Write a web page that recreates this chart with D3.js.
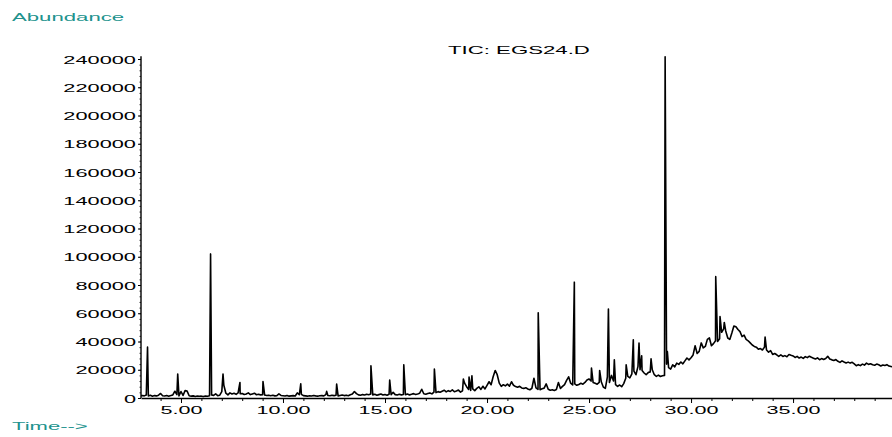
<!DOCTYPE html>
<html>
<head>
<meta charset="utf-8">
<script src="https://cdn.jsdelivr.net/npm/d3@7"></script>
<style>
  body { margin: 0; background: #fff; }
  svg { display: block; font-family: 'Liberation Sans', Arial, Helvetica, sans-serif; }
</style>
</head>
<body>
<div id="chart-container"></div>
<script>
// TIC trace, sampled every 0.1 min from 3.0 min (one row per minute)
const traceStart = 3.0;
const traceStep = 0.1;
const traceValues = [
  1600, 1800, 1500, 2100, 1400, 1900, 1300, 1700, 1500, 2000, // 3
  3200, 1600, 1400, 1800, 1300, 1700, 2200, 4800, 2400, 1500, // 4
  4600, 1800, 5200, 4900, 1600, 1300, 1500, 1100, 1400, 1200, // 5
  1300, 1000, 1400, 1200, 1600, 2200, 1800, 2900, 1700, 2000, // 6
  4500, 9000, 3400, 2200, 3600, 2800, 3300, 2600, 3700, 3000, // 7
  3200, 2500, 2800, 3600, 2400, 2900, 3400, 2300, 2600, 2200, // 8
  2400, 2100, 1800, 2000, 1600, 1900, 1500, 1700, 2900, 1800, // 9
  1600, 1400, 1800, 1300, 1500, 1700, 1400, 3600, 2300, 2600, // 10
  1700, 1500, 1300, 1600, 1400, 1800, 1500, 1300, 1600, 1700, // 11
  1500, 2400, 1800, 1600, 1900, 1700, 2000, 1500, 1800, 2100, // 12
  1700, 2000, 1600, 2300, 2800, 4600, 3100, 2200, 1900, 2400, // 13
  2100, 2600, 2300, 2900, 2200, 2600, 2000, 2400, 2800, 2100, // 14
  2500, 2000, 2700, 2300, 4000, 2400, 2100, 2600, 2200, 2500, // 15
  2300, 2800, 2200, 2600, 3100, 2500, 2900, 3400, 6200, 3000, // 16
  2700, 3200, 3600, 2900, 4200, 3800, 4500, 4100, 4800, 5500, // 17
  4300, 5200, 4600, 5800, 4400, 4900, 5600, 4200, 5100, 10500, // 18
  8000, 6000, 5400, 6500, 5200, 6800, 7900, 6100, 8300, 6400, // 19
  9000, 11500, 9400, 15000, 19500, 16500, 10500, 8200, 9400, 8600, // 20
  9800, 8400, 11500, 9000, 8100, 7600, 8300, 7100, 6800, 7300, // 21
  6400, 5800, 6900, 14000, 7200, 6100, 5900, 6600, 7000, 10000, // 22
  6200, 5500, 5800, 5300, 6000, 11000, 6800, 8200, 9500, 12500, // 23
  15000, 10500, 9200, 10000, 9000, 9600, 10400, 9800, 11000, 12800, // 24
  13500, 12000, 11000, 10400, 9800, 11000, 11500, 7800, 6800, 15000, // 25
  11000, 16000, 12000, 9400, 8200, 9200, 8000, 10200, 14000, 15300, // 26
  14300, 17000, 19000, 16500, 22400, 20000, 19500, 17700, 16500, 18000, // 27
  18500, 20000, 16500, 15300, 16200, 15200, 15800, 16000, 24000, 21500, // 28
  20500, 23500, 22000, 24700, 23800, 25500, 24200, 26300, 28300, 27000, // 29
  28500, 30500, 37000, 31500, 33000, 39000, 35500, 36500, 41500, 42500, // 30
  37000, 38500, 40500, 40000, 42000, 46500, 49000, 47500, 42500, 41500, // 31
  46000, 51000, 50500, 48500, 47000, 43500, 44500, 41500, 40500, 39000, // 32
  37500, 36500, 36000, 34500, 35000, 34000, 36000, 34000, 32500, 33500, // 33
  30800, 31500, 30600, 29500, 30500, 29400, 30000, 29200, 30800, 30200, // 34
  29800, 28700, 29500, 28300, 29000, 28000, 29300, 28600, 29600, 28800, // 35
  28200, 27600, 28400, 27100, 27900, 27300, 28000, 29500, 27600, 27000, // 36
  26600, 27200, 26000, 25200, 26300, 25500, 24800, 25400, 24700, 25300, // 37
  24200, 22800, 23600, 22900, 24000, 23300, 24700, 23800, 24200, 23500, // 38
  23200, 24000, 23500, 22700, 23400, 23000, 23600, 22600, 22300, 22000  // 39
];

// narrow peaks: retention time (min) and apex abundance
const peakTimes = [
  3.36, 4.84, 6.45, 7.06, 7.89, 9.02, 10.87, 12.14, 12.63, 14.31, 15.23,
  15.92, 17.42, 18.84, 19.12, 19.26, 22.51, 24.28, 25.12, 25.52, 25.95,
  26.24, 26.82, 27.17, 27.45, 27.58, 28.04, 28.73, 28.84, 31.21, 31.42,
  31.63, 33.63
];
const peakHeights = [
  36000, 17000, 102000, 17000, 11000, 11700, 10100, 4700, 9900, 22800, 12700,
  23500, 20500, 13400, 14800, 15700, 60300, 82000, 21200, 19500, 63000,
  27000, 23500, 41200, 38900, 29900, 27700, 241600, 32900, 85900, 57700,
  53500, 43100
];

const timeTicks = [5, 10, 15, 20, 25, 30, 35];
const timeLabels = ['5.00', '10.00', '15.00', '20.00', '25.00', '30.00', '35.00'];
const abundanceTicks = [0, 20000, 40000, 60000, 80000, 100000, 120000, 140000,
  160000, 180000, 200000, 220000, 240000];

const chartTitle = 'TIC: EGS24.D';
const yTitle = 'Abundance';
const xTitle = 'Time-->';

const dimensions = { width: 892, height: 437 };
const plot = { left: 141, right: 892, top: 59, bottom: 398 };
const stretch = 2.0; // printout text is drawn wide
const teal = '#21928d';

const svg = d3
  .select('#chart-container')
  .append('svg')
  .attr('width', dimensions.width)
  .attr('height', dimensions.height)
  .attr('viewBox', `0 0 ${dimensions.width} ${dimensions.height}`);

svg.append('rect')
  .attr('width', dimensions.width)
  .attr('height', dimensions.height)
  .attr('fill', '#fff');

const x = d3.scaleLinear().domain([3.04, 39.85]).range([plot.left, plot.right]);
const y = d3.scaleLinear().domain([0, 240000]).range([plot.bottom, plot.top]);

function wideText(sel, dx, dy, factor, anchor) {
  sel.attr('x', 0).attr('y', 0).attr('dy', null)
    .attr('text-anchor', anchor)
    .attr('transform', `translate(${dx},${dy}) scale(${factor},1)`);
}

function drawX() {
  // minor ticks, every minute
  svg.append('g')
    .attr('transform', `translate(0,${plot.bottom})`)
    .call(d3.axisBottom(x).tickValues(d3.range(4, 40, 1)).tickSize(3).tickFormat(''))
    .call(g => g.select('.domain').remove())
    .selectAll('line').attr('stroke', '#000');

  const axis = svg.append('g')
    .attr('class', 'x-axis')
    .attr('transform', `translate(0,${plot.bottom})`)
    .call(d3.axisBottom(x)
      .tickValues(timeTicks)
      .tickSize(5)
      .tickSizeOuter(0)
      .tickFormat((d, i) => timeLabels[i]));

  axis.select('.domain').attr('stroke', '#000').attr('stroke-width', 1.4);
  axis.selectAll('line').attr('stroke', '#000');
  axis.selectAll('text')
    .attr('fill', '#000')
    .attr('font-size', 10.8)
    .call(wideText, 0, 16, stretch, 'middle');
}

function drawY() {
  svg.append('g')
    .attr('transform', `translate(${plot.left},0)`)
    .call(d3.axisLeft(y).tickValues(d3.range(0, 244000, 4000)).tickSize(1.5).tickFormat(''))
    .call(g => g.select('.domain').remove())
    .selectAll('line').attr('stroke', '#000').attr('stroke-width', 0.8);

  const axis = svg.append('g')
    .attr('class', 'y-axis')
    .attr('transform', `translate(${plot.left},0)`)
    .call(d3.axisLeft(y).tickValues(abundanceTicks).tickSize(3).tickSizeOuter(0).tickFormat(d => String(d)));

  axis.select('.domain').remove();
  axis.selectAll('line').attr('stroke', '#000');
  axis.selectAll('text')
    .attr('fill', '#000')
    .attr('font-size', 10.9)
    .call(wideText, -5, 4, stretch, 'end');

  axis.append('line')
    .attr('x1', 0).attr('x2', 0)
    .attr('y1', y(0)).attr('y2', y(242000))
    .attr('stroke', '#000')
    .attr('stroke-width', 1.4);
}

function drawTrace() {
  const points = traceValues
    .map((v, i) => ({ t: traceStart + i * traceStep, v }))
    .concat(peakTimes.map((t, i) => ({ t, v: peakHeights[i] })))
    .sort((a, b) => a.t - b.t);

  svg.append('clipPath')
    .attr('id', 'plot-clip')
    .append('rect')
    .attr('x', plot.left)
    .attr('y', 0)
    .attr('width', plot.right - plot.left)
    .attr('height', plot.bottom + 1);

  svg.append('path')
    .datum(points)
    .attr('clip-path', 'url(#plot-clip)')
    .attr('fill', 'none')
    .attr('stroke', '#000')
    .attr('stroke-width', 1.6)
    .attr('stroke-linejoin', 'round')
    .attr('d', d3.line().x(d => x(d.t)).y(d => y(d.v)));
}

function drawTitles() {
  svg.append('text')
    .text(yTitle)
    .attr('fill', teal)
    .attr('font-size', 11.5)
    .call(wideText, 12, 20.5, 1.93, 'start');

  svg.append('text')
    .text(xTitle)
    .attr('fill', teal)
    .attr('font-size', 11.2)
    .call(wideText, 12, 430, 1.97, 'start');

  svg.append('text')
    .text(chartTitle)
    .attr('fill', '#000')
    .attr('font-size', 11.1)
    .call(wideText, 448, 54, stretch, 'start');
}

drawTrace();
drawX();
drawY();
drawTitles();
</script>
</body>
</html>
